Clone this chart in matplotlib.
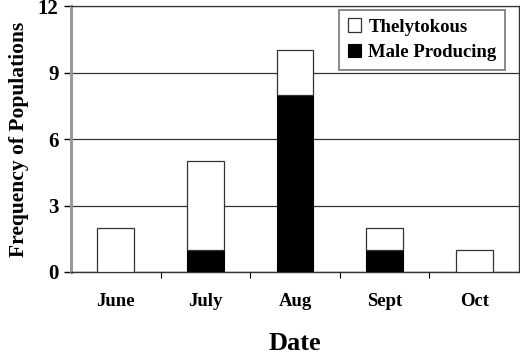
import numpy as np
import matplotlib
matplotlib.use("Agg")
import matplotlib.pyplot as plt

# ── Data ───────────────────────────────────────────────────────────────────────
months       = ["June", "July", "Aug", "Sept", "Oct"]
male_prod    = [0, 1, 8, 1, 0]
thelytokous  = [2, 4, 2, 1, 1]
y_ticks      = [0, 3, 6, 9, 12]

# ── Plot ───────────────────────────────────────────────────────────────────────
plt.rcParams["font.family"] = ["Liberation Serif", "DejaVu Serif"]
plt.rcParams["font.weight"] = "bold"

fig = plt.figure(figsize=(5.2, 3.56), dpi=100)
ax = fig.add_axes([0.1365, 0.236, 0.8615, 0.747])

x = np.arange(len(months))
w = 0.41
ax.bar(x, male_prod, w, color="black", edgecolor="black", linewidth=0.8,
       label="Male Producing", zorder=3)
ax.bar(x, thelytokous, w, bottom=male_prod, color="white", edgecolor="#333333",
       linewidth=0.9, label="Thelytokous", zorder=3)

ax.set_xlim(-0.5, len(months) - 0.5)
ax.set_ylim(0, 12)
ax.set_yticks(y_ticks)
ax.set_yticklabels([str(v) for v in y_ticks], fontsize=15, fontweight="bold")
ax.set_xticks(x)
ax.set_xticklabels(months, fontsize=13.5, fontweight="bold")
ax.tick_params(axis="x", which="major", length=0, pad=15)
ax.set_xticks(np.arange(0.5, len(months) - 0.5), minor=True)
ax.tick_params(axis="x", which="minor", length=4, direction="out", width=0.8)
ax.tick_params(axis="y", length=5, width=1.0, direction="out", pad=4)

ax.yaxis.grid(True, color="#333333", linewidth=0.9, zorder=0)
ax.set_axisbelow(True)
ax.spines["top"].set_color("#333333")
ax.spines["top"].set_linewidth(0.9)
ax.spines["left"].set_color("#999999")
ax.spines["left"].set_linewidth(2.2)
ax.spines["right"].set_color("#333333")
ax.spines["right"].set_linewidth(1.0)
ax.spines["bottom"].set_color("#333333")
ax.spines["bottom"].set_linewidth(1.0)

ax.set_ylabel("Frequency of Populations", fontsize=15.5, fontweight="bold",
              labelpad=6)
ax.set_xlabel("Date", fontsize=19, fontweight="bold", labelpad=16)

handles, labels = ax.get_legend_handles_labels()
leg = ax.legend(handles[::-1], labels[::-1], loc="upper right",
                bbox_to_anchor=(0.969, 0.985),
                prop={"weight": "bold", "size": 13.5},
                frameon=True, fancybox=False, shadow=False,
                handlelength=0.7, handleheight=0.7, handletextpad=0.4,
                borderpad=0.45, labelspacing=0.45, borderaxespad=0)
leg.get_frame().set_edgecolor("#555555")
leg.get_frame().set_linewidth(1.2)

fig.savefig("out.png", dpi=100)
